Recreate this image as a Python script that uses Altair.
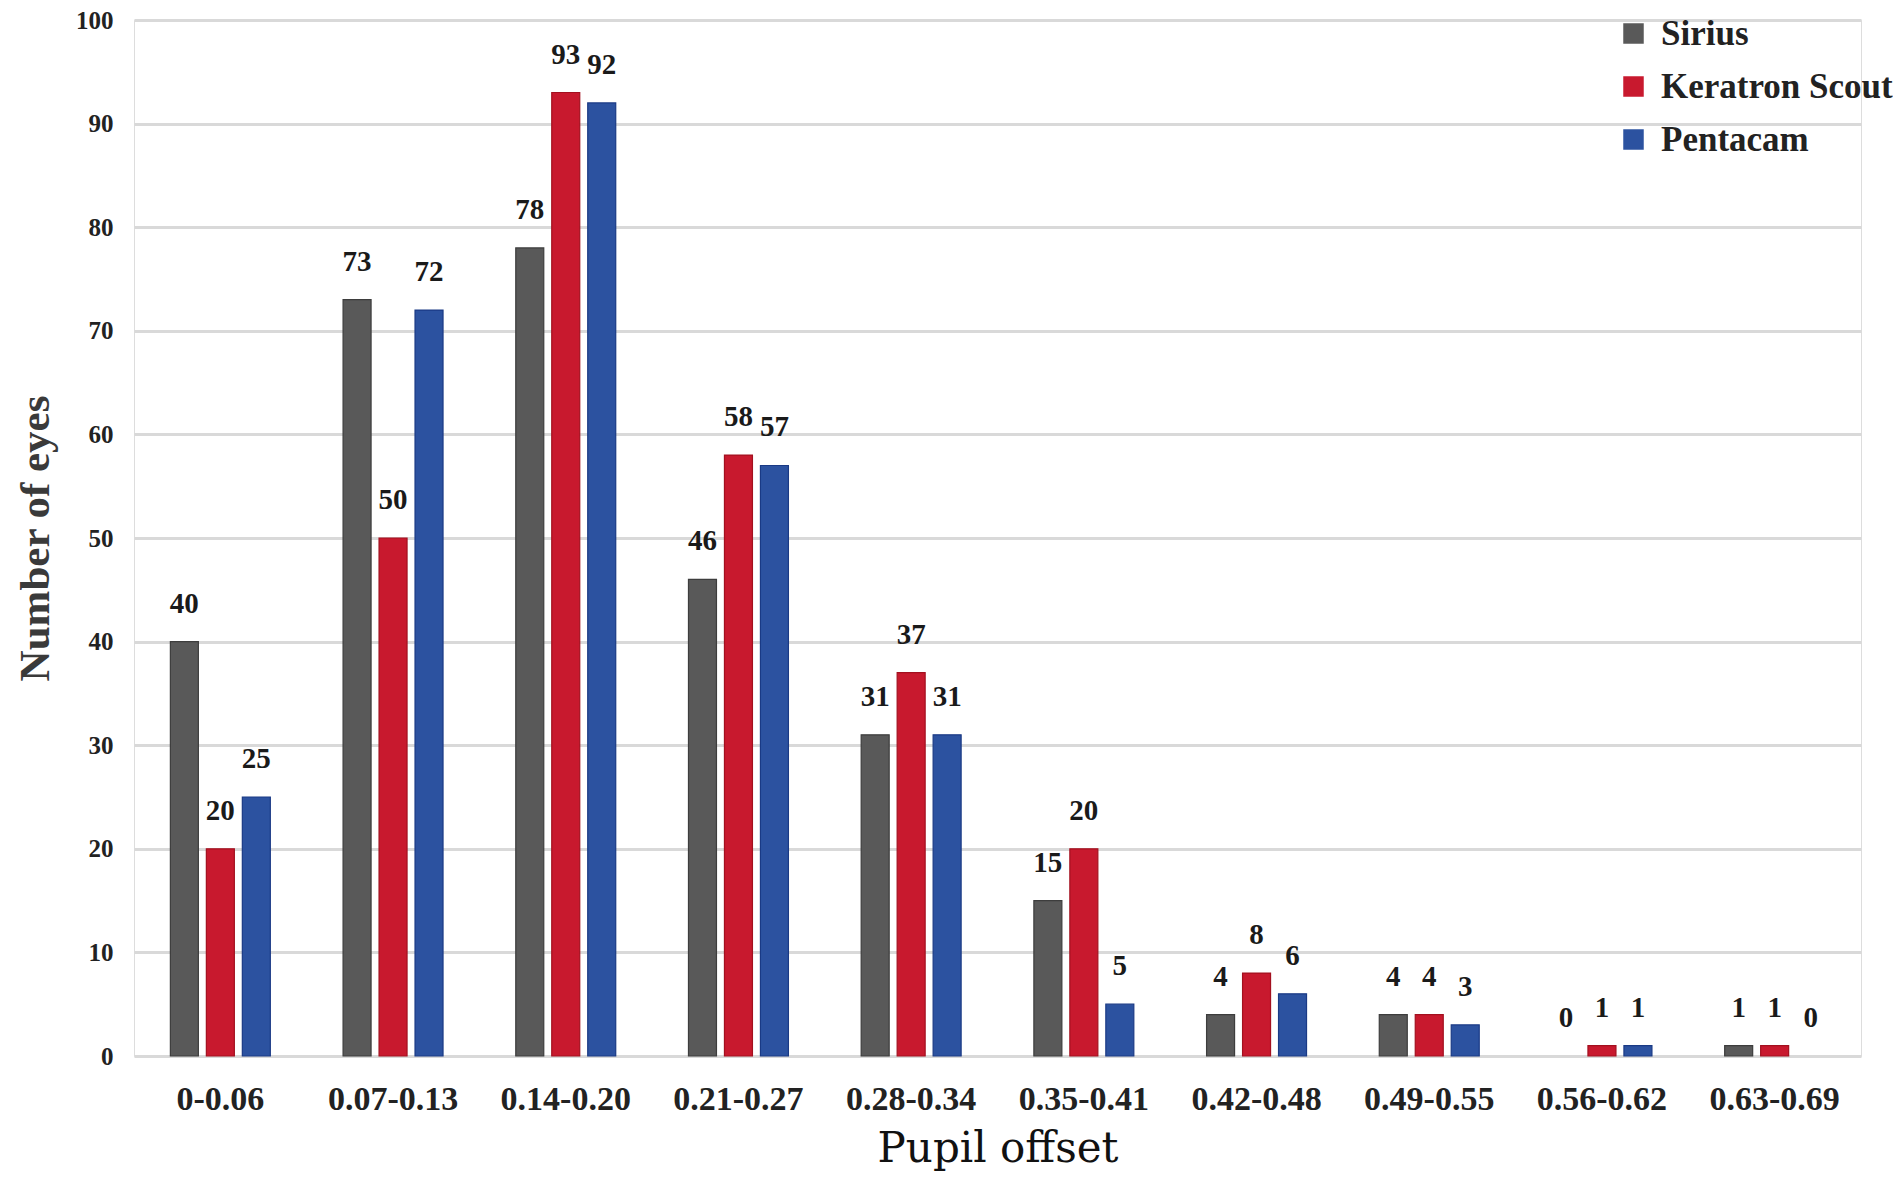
import altair as alt
import pandas as pd

categories = ["0-0.06", "0.07-0.13", "0.14-0.20", "0.21-0.27", "0.28-0.34",
              "0.35-0.41", "0.42-0.48", "0.49-0.55", "0.56-0.62", "0.63-0.69"]
series_names = ["Sirius", "Keratron Scout", "Pentacam"]
sirius = [40, 73, 78, 46, 31, 15, 4, 4, 0, 1]
keratron = [20, 50, 93, 58, 37, 20, 8, 4, 1, 1]
pentacam = [25, 72, 92, 57, 31, 5, 6, 3, 1, 0]
y_ticks = list(range(0, 101, 10))

fill_colors = ["#595959", "#C8192E", "#2C52A0"]
stroke_colors = ["#3d3d3d", "#a3101f", "#1a3a85"]

rows = []
for name, vals in zip(series_names, [sirius, keratron, pentacam]):
    for c, v in zip(categories, vals):
        rows.append({"offset": c, "device": name, "eyes": v})
df = pd.DataFrame(rows)

SERIF = "Liberation Serif"

x_enc = alt.X(
    "offset:N", sort=categories, title="Pupil offset",
    scale=alt.Scale(paddingInner=0.375, paddingOuter=0.1875),
    axis=alt.Axis(labelAngle=0, ticks=False, domain=False,
                  labelFont=SERIF, labelFontSize=34, labelFontWeight="bold",
                  labelColor="#222222", labelPadding=26,
                  titleFont="DejaVu Serif", titleFontSize=42, titleFontWeight="normal",
                  titleColor="#111111", titlePadding=12),
)
xoff_enc = alt.XOffset("device:N", sort=series_names,
                       scale=alt.Scale(paddingInner=0.222, paddingOuter=0.111))
y_enc = alt.Y(
    "eyes:Q", title="Number of eyes",
    scale=alt.Scale(domain=[0, 100]),
    axis=alt.Axis(values=y_ticks, domain=False, ticks=False,
                  gridColor="#D9D9D9", gridWidth=3,
                  labelFont=SERIF, labelFontSize=25, labelFontWeight="bold",
                  labelColor="#222222", labelPadding=21,
                  titleFont=SERIF, titleFontSize=43, titleFontWeight="bold",
                  titleColor="#3a3a3a", titlePadding=18),
)

bars = alt.Chart(df).transform_filter("datum.eyes > 0").mark_bar(strokeWidth=1.2).encode(
    x=x_enc,
    xOffset=xoff_enc,
    y=y_enc,
    color=alt.Color("device:N", sort=series_names,
                    scale=alt.Scale(domain=series_names, range=fill_colors),
                    legend=alt.Legend(title=None, orient="none", legendX=1482, legendY=-4,
                                      symbolType="square", symbolSize=420,
                                      symbolStrokeWidth=0,
                                      labelFont=SERIF, labelFontSize=35,
                                      labelFontWeight="bold", labelColor="#222222",
                                      labelLimit=0,
                                      labelOffset=10, rowPadding=17, padding=0)),
    stroke=alt.Stroke("device:N", sort=series_names,
                      scale=alt.Scale(domain=series_names, range=stroke_colors),
                      legend=None),
)

labels = alt.Chart(df).mark_text(
    font=SERIF, fontSize=29, fontWeight="bold", color="#1a1a1a",
    baseline="middle", dy=-38,
).encode(
    x=alt.X("offset:N", sort=categories),
    xOffset=alt.XOffset("device:N", sort=series_names),
    y=alt.Y("eyes:Q"),
    text=alt.Text("eyes:Q"),
)

chart = alt.layer(bars, labels).properties(
    width=1727, height=1036,
    autosize=alt.AutoSizeParams(type="none"),
    padding={"left": 126, "top": 12, "right": 32, "bottom": 124},
).configure_view(stroke=None).configure(background="white")

chart.save("out.html", embed_options={"renderer": "svg", "actions": False})
